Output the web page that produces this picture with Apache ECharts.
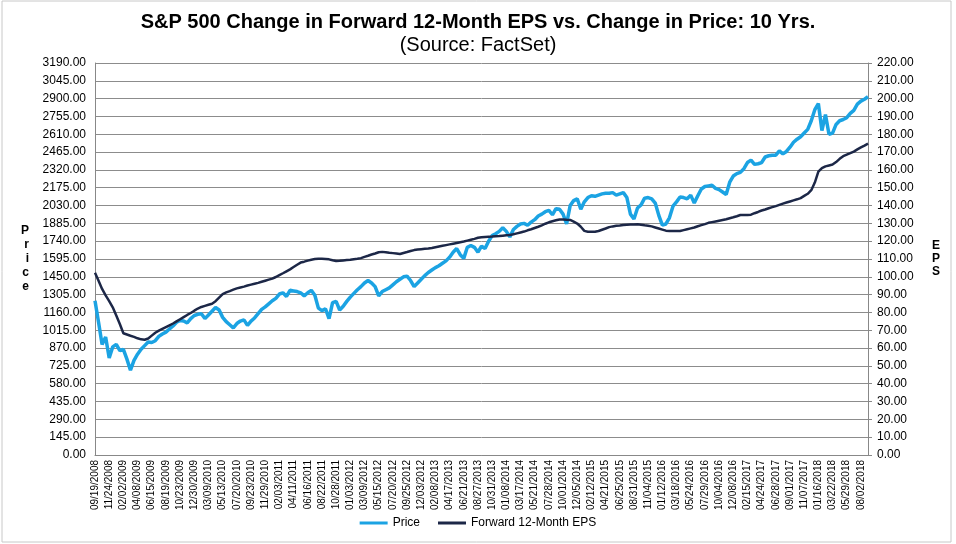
<!DOCTYPE html>
<html>
<head>
<meta charset="utf-8">
<script src="https://cdn.jsdelivr.net/npm/echarts@6/dist/echarts.min.js"></script>
<style>
html,body{margin:0;padding:0;background:#fff;}
#chart{width:956px;height:544px;}
</style>
</head>
<body>
<div id="chart"></div>
<script>
// Tick labels on the category axis (one every 4 samples)
var tickLabels = [
 "09/19/2008","11/24/2008","02/02/2009","04/08/2009","06/15/2009","08/19/2009","10/23/2009","12/30/2009",
 "03/09/2010","05/13/2010","07/20/2010","09/23/2010","11/29/2010","02/03/2011","04/11/2011","06/16/2011",
 "08/22/2011","10/28/2011","01/03/2012","03/09/2012","05/15/2012","07/20/2012","09/25/2012","12/03/2012",
 "02/08/2013","04/17/2013","06/21/2013","08/27/2013","10/31/2013","01/08/2014","03/17/2014","05/21/2014",
 "07/28/2014","10/01/2014","12/05/2014","02/12/2015","04/21/2015","06/25/2015","08/31/2015","11/04/2015",
 "01/12/2016","03/18/2016","05/24/2016","07/29/2016","10/04/2016","12/08/2016","02/15/2017","04/24/2017",
 "06/28/2017","09/01/2017","11/07/2017","01/16/2018","03/22/2018","05/29/2018","08/02/2018"
];

// S&P 500 price (left axis), sampled roughly every 11-12 trading days
var price = [
 1255,1080,900,960,790,880,900,850,860,780,
 690,770,820,860,890,920,915,930,965,985,
 1000,1025,1050,1080,1095,1090,1075,1110,1135,1145,
 1150,1110,1140,1170,1200,1180,1120,1085,1060,1035,
 1070,1090,1100,1055,1090,1115,1150,1185,1205,1230,
 1255,1275,1310,1320,1290,1340,1335,1330,1320,1295,
 1320,1340,1300,1195,1175,1190,1110,1240,1250,1180,
 1210,1250,1285,1315,1345,1370,1400,1420,1400,1370,
 1295,1330,1345,1360,1385,1410,1430,1450,1455,1420,
 1370,1400,1430,1460,1485,1505,1525,1540,1560,1580,
 1610,1650,1680,1630,1600,1690,1705,1690,1650,1700,
 1680,1740,1785,1800,1820,1850,1820,1775,1835,1860,
 1880,1885,1870,1895,1915,1945,1960,1980,1990,1955,
 2005,2000,1960,1880,2030,2070,2085,2000,2060,2095,
 2110,2105,2115,2125,2130,2130,2135,2115,2125,2135,
 2095,1960,1920,2010,2035,2090,2095,2085,2050,1950,
 1870,1880,1930,2025,2060,2100,2095,2085,2115,2050,
 2110,2165,2185,2190,2195,2170,2160,2140,2120,2220,
 2270,2290,2300,2330,2380,2400,2365,2370,2380,2425,
 2435,2440,2440,2475,2450,2470,2505,2545,2570,2590,
 2620,2650,2720,2810,2860,2640,2770,2610,2620,2690,
 2720,2730,2745,2780,2805,2855,2880,2895,2915
];

// Forward 12-month EPS (right axis), same sampling
var eps = [
 102.3,97.8,93.2,89.6,86.4,82.9,78.3,73.5,68.3,67.6,
 66.9,66.3,65.5,64.9,64.7,65.4,67.0,68.6,69.8,70.8,
 71.8,72.8,73.8,75.0,76.2,77.4,78.6,79.7,81.0,82.2,
 83.1,83.7,84.3,84.9,86.3,88.3,90.3,91.3,92.0,92.8,
 93.5,94.0,94.5,95.1,95.6,96.1,96.6,97.2,97.8,98.4,
 99.0,99.9,101.0,102.0,103.1,104.2,105.5,106.8,108.0,108.5,
 109.1,109.6,110.0,110.2,110.1,110.0,109.8,109.3,108.9,109.0,
 109.2,109.4,109.6,109.9,110.1,110.5,111.2,111.8,112.5,113.1,
 113.8,114.0,113.8,113.5,113.3,113.1,112.8,113.4,113.9,114.5,
 115.0,115.3,115.5,115.7,115.9,116.2,116.6,117.0,117.4,117.8,
 118.2,118.6,119.0,119.4,119.8,120.3,120.8,121.3,121.9,122.2,
 122.4,122.5,122.6,122.8,122.9,123.1,123.3,123.5,123.9,124.4,
 124.9,125.4,126.1,126.7,127.4,128.1,128.9,129.8,130.6,131.2,
 131.7,132.2,132.2,132.0,131.9,131.0,129.9,128.1,125.8,125.3,
 125.3,125.3,125.7,126.4,127.1,127.9,128.3,128.6,128.8,129.1,
 129.2,129.3,129.4,129.5,129.2,128.9,128.7,128.3,127.7,127.1,
 126.5,125.9,125.7,125.7,125.7,125.7,126.2,126.7,127.2,127.7,
 128.4,129.0,129.6,130.3,130.7,131.1,131.5,131.9,132.3,132.9,
 133.4,134.0,134.7,134.7,134.7,134.9,135.7,136.4,137.2,137.8,
 138.5,139.1,139.7,140.4,141.1,141.7,142.3,142.9,143.5,144.2,
 145.4,146.6,148.6,152.9,159.0,161.0,162.0,162.5,163.0,164.4,
 166.2,167.7,168.6,169.4,170.3,171.5,172.6,173.6,174.7
];

var LABEL_STEP = 4;
var categories = price.map(function(_, i){ return String(i); });
var FONT = "'Liberation Sans', Arial, sans-serif";

var chart = echarts.init(document.getElementById('chart'), null, {renderer:'canvas'});
chart.setOption({
  backgroundColor: '#ffffff',
  animation: false,
  title: [
    {text: 'S&P 500 Change in Forward 12-Month EPS vs. Change in Price: 10 Yrs.', left: 'center', top: 7,
     textStyle: {fontFamily: FONT, fontSize: 20, fontWeight: 'bold', color: '#000'}},
    {text: '(Source: FactSet)', left: 'center', top: 30,
     textStyle: {fontFamily: FONT, fontSize: 20, fontWeight: 'normal', color: '#000'}}
  ],
  legend: {
    bottom: 10, left: 'center', itemWidth: 28, itemHeight: 3, itemGap: 18,
    icon: 'rect',
    textStyle: {fontFamily: FONT, fontSize: 12, color: '#000'},
    data: ['Price', 'Forward 12-Month EPS']
  },
  grid: {left: 95, right: 88, top: 63, bottom: 89, containLabel: false},
  xAxis: {
    type: 'category', data: categories, boundaryGap: false,
    axisLine: {lineStyle: {color: '#888', width: 1}},
    axisTick: {show: false},
    axisLabel: {
      interval: function(index){ return index % LABEL_STEP === 0; },
      formatter: function(v, index){ return tickLabels[Math.round(index / LABEL_STEP)] || ''; },
      rotate: 90, fontFamily: FONT, fontSize: 10, color: '#000', margin: 5
    },
    splitLine: {show: false}
  },
  yAxis: [
    {type: 'value', min: 0, max: 3190, interval: 145, position: 'left',
     name: 'P\nr\ni\nc\ne', nameLocation: 'middle', nameRotate: 0, nameGap: 66,
     nameTextStyle: {fontFamily: FONT, fontSize: 12, fontWeight: 'bold', color: '#000', lineHeight: 14},
     axisLine: {show: true, lineStyle: {color: '#888'}},
     axisTick: {show: false},
     axisLabel: {formatter: function(v){ return v.toFixed(2); }, fontFamily: FONT, fontSize: 12, color: '#000', margin: 9},
     splitLine: {show: true, lineStyle: {color: '#8c8c8c', width: 1}}},
    {type: 'value', min: 0, max: 220, interval: 10, position: 'right',
     name: 'E\nP\nS', nameLocation: 'middle', nameRotate: 0, nameGap: 64,
     nameTextStyle: {fontFamily: FONT, fontSize: 12, fontWeight: 'bold', color: '#000', lineHeight: 13},
     axisLine: {show: true, lineStyle: {color: '#888'}},
     axisTick: {show: true, length: 4, lineStyle: {color: '#888'}},
     axisLabel: {formatter: function(v){ return v.toFixed(2); }, fontFamily: FONT, fontSize: 12, color: '#000', margin: 9},
     splitLine: {show: false}}
  ],
  series: [
    {name: 'Price', type: 'line', yAxisIndex: 0, data: price, symbol: 'none', smooth: false,
     lineStyle: {color: '#1ba3e3', width: 3.5}, itemStyle: {color: '#1ba3e3'}, z: 2},
    {name: 'Forward 12-Month EPS', type: 'line', yAxisIndex: 1, data: eps, symbol: 'none', smooth: false,
     lineStyle: {color: '#1c2747', width: 2.5}, itemStyle: {color: '#1c2747'}, z: 3}
  ],
  graphic: [
    {type: 'rect', shape: {x: 2, y: 1, width: 949, height: 541},
     style: {fill: 'none', stroke: '#c8c8c8', lineWidth: 1}, silent: true}
  ]
});
</script>
</body>
</html>
